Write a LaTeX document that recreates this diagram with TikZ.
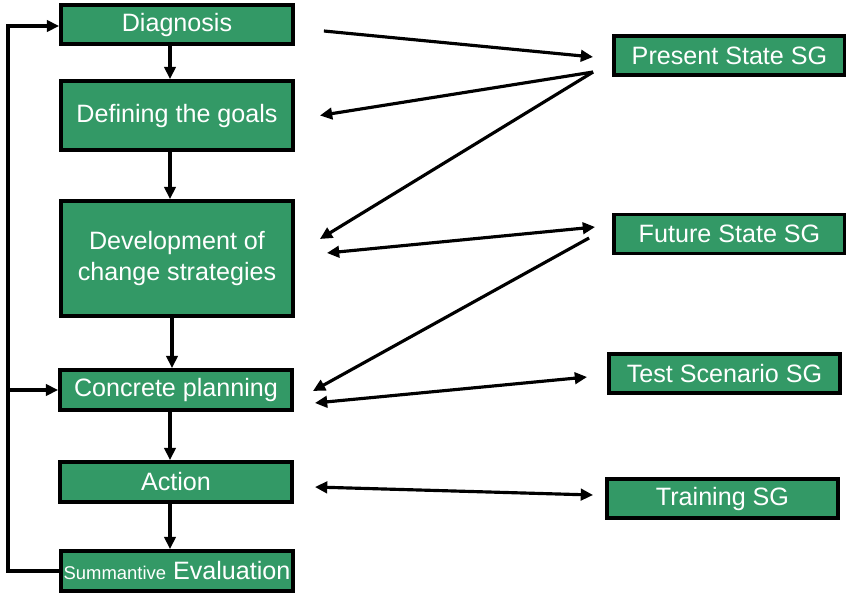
\documentclass[tikz,border=0pt]{standalone}
\usepackage{fontspec}
\setmainfont{Liberation Sans}
\usetikzlibrary{arrows.meta}
\definecolor{sggreen}{RGB}{51,153,102}

\begin{document}
\begin{tikzpicture}[x=0.02cm, y=-0.02cm,
    stage/.style={fill=sggreen, draw=black, line width=2.2pt, rectangle, text=white,
      minimum width=4.64cm, inner sep=0pt, align=center, font=\fontsize{14.3}{17.5}\selectfont},
    sg/.style={stage, minimum width=4.62cm, minimum height=0.78cm},
    link/.style={line width=1.8pt, -{Triangle[length=7pt,width=6.5pt]}},
    twoway/.style={link, {Triangle[length=7pt,width=6.5pt]}-{Triangle[length=7pt,width=6.5pt]}}]
    \useasboundingbox (0,0) rectangle (846,593);

    % process column
    \node[stage, minimum height=0.78cm] (diag) at (177,24.5) {Diagnosis};
    \node[stage, minimum height=1.38cm] (goals) at (177,115.5) {Defining the goals};
    \node[stage, minimum height=2.3cm] (dev) at (177,258.5) {Development of\\change strategies};
    \node[stage, minimum height=0.8cm] (plan) at (176,390) {Concrete planning};
    \node[stage, minimum height=0.8cm] (act) at (176,482) {Action};
    \node[stage, minimum height=0.8cm] (eval) at (177,571)
      {{\fontsize{10.5}{12}\selectfont Summantive} Evaluation};

    % serious games
    \node[sg] (present) at (729.5,55.5) {Present State SG};
    \node[sg] (future) at (729.5,234) {Future State SG};
    \node[sg] (test) at (724.5,373.5) {Test Scenario SG};
    \node[sg] (train) at (722.5,498.5) {Training SG};

    \coordinate (vx) at (170,0);
    \coordinate (loopx) at (8,0);

    \draw[link] (diag.south -| vx) -- (goals.north -| vx);
    \draw[link] (goals.south -| vx) -- (dev.north -| vx);
    \draw[link] ([xshift=2*0.02cm]dev.south -| vx) -- ([xshift=2*0.02cm]plan.north -| vx);
    \draw[link] (plan.south -| vx) -- (act.north -| vx);
    \draw[link] (act.south -| vx) -- (eval.north -| vx);

    % feedback loop
    \draw[link] (eval.west) -- (eval.west -| loopx) |- ([yshift=-1.5*0.02cm]diag.west);
    \draw[link] (plan.west -| loopx) -- (plan.west);

    % links to the games
    \draw[link] ([shift={(29,6.5)}]diag.east) -- ([shift={(-19,1.5)}]present.west);
    \draw[link] ([shift={(-19,16.5)}]present.west) -- ([shift={(25,0)}]goals.east);
    \draw[link] ([shift={(-19,16.5)}]present.west) -- ([shift={(25,-19.5)}]dev.east);
    \draw[twoway] ([shift={(32,-5.5)}]dev.east) -- ([shift={(-17,-7)}]future.west);
    \draw[link] ([shift={(-23,4)}]future.west) -- ([shift={(19,1)}]plan.east);
    \draw[twoway] ([shift={(21,13)}]plan.east) -- ([shift={(-20,3.5)}]test.west);
    \draw[twoway] ([shift={(21,5)}]act.east) -- ([shift={(-12,-3.5)}]train.west);
  \end{tikzpicture}
\end{document}
